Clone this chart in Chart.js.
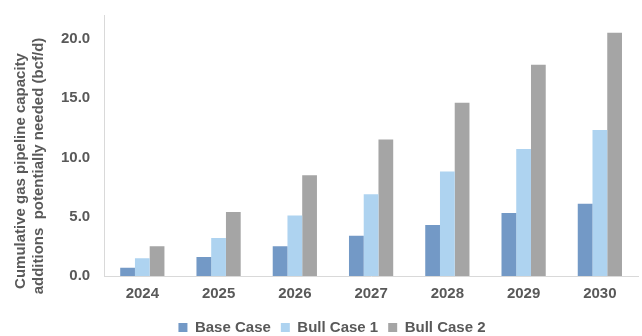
<!DOCTYPE html>
<html>
<head>
<meta charset="utf-8">
<script src="https://cdn.jsdelivr.net/npm/chart.js@4"></script>
<style>
  html, body { margin: 0; padding: 0; background: #fff; }
  #wrap { width: 642px; height: 336px; }
</style>
</head>
<body>
<div id="wrap"><canvas id="chart"></canvas></div>
<script>
// --- data ---
const years = ["2024", "2025", "2026", "2027", "2028", "2029", "2030"];
const baseCase = [0.7, 1.6, 2.5, 3.4, 4.3, 5.3, 6.1];
const bullCase1 = [1.5, 3.2, 5.1, 6.9, 8.8, 10.7, 12.3];
const bullCase2 = [2.5, 5.4, 8.5, 11.5, 14.6, 17.8, 20.5];
const yTicks = [0, 5, 10, 15, 20];
const yTitle = ["Cumulative gas pipeline capacity", "additions  potentially needed (bcf/d)"];

const textGray = "#595959";
const axisGray = "#D9D9D9";
const font = { family: "Arial, 'Liberation Sans', sans-serif", size: 15, weight: "bold" };

Chart.defaults.animation = false;

// y title drawn by hand: the original sits lower than the plot centre and runs off the bottom
const yTitlePlugin = {
    id: "yTitle",
    afterDraw(chart) {
        const ctx = chart.ctx;
        const spots = [[25, 171], [42.5, 166]];
        ctx.save();
        ctx.fillStyle = textGray;
        ctx.font = "bold 15px Arial, 'Liberation Sans', sans-serif";
        ctx.textAlign = "center";
        ctx.textBaseline = "alphabetic";
        yTitle.forEach((line, i) => {
            ctx.save();
            ctx.translate(spots[i][0], spots[i][1]);
            ctx.rotate(-Math.PI / 2);
            ctx.fillText(line, 0, 0);
            ctx.restore();
        });
        ctx.restore();
    }
};

new Chart(document.getElementById("chart"), {
    type: "bar",
    data: {
        labels: years,
        datasets: [
            { label: "Base Case", data: baseCase, backgroundColor: "#7399C6" },
            { label: "Bull Case 1", data: bullCase1, backgroundColor: "#AED3F0" },
            { label: "Bull Case 2", data: bullCase2, backgroundColor: "#A5A5A5" }
        ]
    },
    plugins: [yTitlePlugin],
    options: {
        responsive: true, maintainAspectRatio: false,
        layout: { padding: { top: 5, right: 4, left: 26, bottom: -9 } },
        datasets: { bar: { barPercentage: 1, categoryPercentage: 0.58 } },
        plugins: {
            tooltip: { enabled: false },
            legend: {
                position: "bottom",
                // blank title only adds a little air above the legend row
                title: { display: true, text: " ", font: { size: 6, lineHeight: 1 }, padding: 0 },
                labels: { color: textGray, font, boxWidth: 9, boxHeight: 9, padding: 10 }
            }
        },
        scales: {
            x: {
                grid: { display: false },
                border: { display: true, color: axisGray, width: 1 },
                ticks: { color: textGray, font, padding: 1 }
            },
            y: {
                min: 0, max: 22,
                grid: { display: false },
                border: { display: true, color: axisGray, width: 1 },
                afterBuildTicks: (axis) => { axis.ticks = yTicks.map(v => ({ value: v })); },
                // room for the hand-drawn title, kept inside the axis so the legend stays centred
                afterFit: (axis) => { axis.width += 29; },
                ticks: { color: textGray, font, padding: 6, callback: (v) => Number(v).toFixed(1) }
            }
        }
    }
});
</script>
</body>
</html>
